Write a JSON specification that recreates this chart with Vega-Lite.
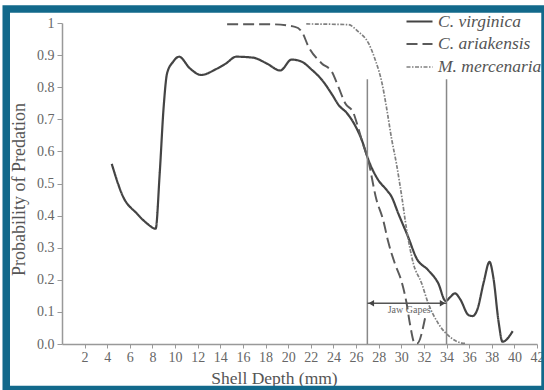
{
  "$schema": "https://vega.github.io/schema/vega-lite/v6.json",
  "width": 475,
  "height": 321,
  "autosize": {"type": "none"},
  "padding": {"left": 62, "top": 23, "right": 7, "bottom": 46},
  "background": "white",
  "config": {
    "view": {"stroke": null},
    "font": "Liberation Serif",
    "axis": {"labelOverlap": false, "labelSeparation": 0, "labelBound": false, "labelFlush": false, "grid": false, "labelFont": "Liberation Serif", "labelFontSize": 14, "labelColor": "#666", "domainColor": "#999", "tickColor": "#999", "domainWidth": 1.5}
  },
  "datasets": {
    "curves": [
      {"series": "C. virginica", "x": 4.4, "y": 0.561},
      {"series": "C. virginica", "x": 5.4, "y": 0.459},
      {"series": "C. virginica", "x": 6.6, "y": 0.407},
      {"series": "C. virginica", "x": 7.5, "y": 0.376},
      {"series": "C. virginica", "x": 8.28, "y": 0.359},
      {"series": "C. virginica", "x": 8.64, "y": 0.532},
      {"series": "C. virginica", "x": 8.99, "y": 0.739},
      {"series": "C. virginica", "x": 9.29, "y": 0.843},
      {"series": "C. virginica", "x": 9.82, "y": 0.879},
      {"series": "C. virginica", "x": 10.35, "y": 0.895},
      {"series": "C. virginica", "x": 11.3, "y": 0.859},
      {"series": "C. virginica", "x": 12.3, "y": 0.838},
      {"series": "C. virginica", "x": 13.6, "y": 0.856},
      {"series": "C. virginica", "x": 14.5, "y": 0.874},
      {"series": "C. virginica", "x": 15.4, "y": 0.895},
      {"series": "C. virginica", "x": 16.9, "y": 0.892},
      {"series": "C. virginica", "x": 18.1, "y": 0.874},
      {"series": "C. virginica", "x": 19.3, "y": 0.852},
      {"series": "C. virginica", "x": 20.3, "y": 0.886},
      {"series": "C. virginica", "x": 21.1, "y": 0.881},
      {"series": "C. virginica", "x": 22.1, "y": 0.854},
      {"series": "C. virginica", "x": 23.0, "y": 0.822},
      {"series": "C. virginica", "x": 23.9, "y": 0.776},
      {"series": "C. virginica", "x": 24.45, "y": 0.745},
      {"series": "C. virginica", "x": 25.2, "y": 0.719},
      {"series": "C. virginica", "x": 25.8, "y": 0.688},
      {"series": "C. virginica", "x": 26.5, "y": 0.636},
      {"series": "C. virginica", "x": 27.1, "y": 0.573},
      {"series": "C. virginica", "x": 27.96, "y": 0.511},
      {"series": "C. virginica", "x": 28.7, "y": 0.48},
      {"series": "C. virginica", "x": 29.14, "y": 0.459},
      {"series": "C. virginica", "x": 29.73, "y": 0.407},
      {"series": "C. virginica", "x": 30.6, "y": 0.334},
      {"series": "C. virginica", "x": 31.35, "y": 0.267},
      {"series": "C. virginica", "x": 32.38, "y": 0.23},
      {"series": "C. virginica", "x": 33.27, "y": 0.189},
      {"series": "C. virginica", "x": 33.92, "y": 0.134},
      {"series": "C. virginica", "x": 34.3, "y": 0.145},
      {"series": "C. virginica", "x": 34.75, "y": 0.158},
      {"series": "C. virginica", "x": 35.2, "y": 0.14},
      {"series": "C. virginica", "x": 35.95, "y": 0.09},
      {"series": "C. virginica", "x": 36.3, "y": 0.087},
      {"series": "C. virginica", "x": 36.7, "y": 0.105},
      {"series": "C. virginica", "x": 37.3, "y": 0.194},
      {"series": "C. virginica", "x": 37.8, "y": 0.256},
      {"series": "C. virginica", "x": 38.15, "y": 0.205},
      {"series": "C. virginica", "x": 38.6, "y": 0.07},
      {"series": "C. virginica", "x": 38.95, "y": 0.007},
      {"series": "C. virginica", "x": 39.85, "y": 0.04},
      {"series": "C. ariakensis", "x": 14.6, "y": 0.996},
      {"series": "C. ariakensis", "x": 18.5, "y": 0.996},
      {"series": "C. ariakensis", "x": 20.6, "y": 0.988},
      {"series": "C. ariakensis", "x": 21.2, "y": 0.973},
      {"series": "C. ariakensis", "x": 21.8, "y": 0.926},
      {"series": "C. ariakensis", "x": 22.97, "y": 0.874},
      {"series": "C. ariakensis", "x": 23.86, "y": 0.848},
      {"series": "C. ariakensis", "x": 24.45, "y": 0.8},
      {"series": "C. ariakensis", "x": 25.04, "y": 0.75},
      {"series": "C. ariakensis", "x": 25.78, "y": 0.719},
      {"series": "C. ariakensis", "x": 26.07, "y": 0.688},
      {"series": "C. ariakensis", "x": 26.5, "y": 0.636},
      {"series": "C. ariakensis", "x": 27.07, "y": 0.573},
      {"series": "C. ariakensis", "x": 27.8, "y": 0.45},
      {"series": "C. ariakensis", "x": 28.4, "y": 0.386},
      {"series": "C. ariakensis", "x": 28.84, "y": 0.319},
      {"series": "C. ariakensis", "x": 29.43, "y": 0.251},
      {"series": "C. ariakensis", "x": 30.03, "y": 0.194},
      {"series": "C. ariakensis", "x": 30.47, "y": 0.127},
      {"series": "C. ariakensis", "x": 30.76, "y": 0.064},
      {"series": "C. ariakensis", "x": 31.2, "y": 0.002},
      {"series": "C. ariakensis", "x": 31.4, "y": 0.002},
      {"series": "C. ariakensis", "x": 32.1, "y": 0.08},
      {"series": "M. mercenaria", "x": 21.6, "y": 0.997},
      {"series": "M. mercenaria", "x": 25.3, "y": 0.995},
      {"series": "M. mercenaria", "x": 26.2, "y": 0.973},
      {"series": "M. mercenaria", "x": 27.1, "y": 0.937},
      {"series": "M. mercenaria", "x": 27.7, "y": 0.885},
      {"series": "M. mercenaria", "x": 28.3, "y": 0.812},
      {"series": "M. mercenaria", "x": 28.73, "y": 0.729},
      {"series": "M. mercenaria", "x": 29.14, "y": 0.64},
      {"series": "M. mercenaria", "x": 29.58, "y": 0.56},
      {"series": "M. mercenaria", "x": 30.03, "y": 0.462},
      {"series": "M. mercenaria", "x": 30.47, "y": 0.357},
      {"series": "M. mercenaria", "x": 31.05, "y": 0.253},
      {"series": "M. mercenaria", "x": 31.8, "y": 0.189},
      {"series": "M. mercenaria", "x": 32.38, "y": 0.127},
      {"series": "M. mercenaria", "x": 33.27, "y": 0.064},
      {"series": "M. mercenaria", "x": 34.45, "y": 0.018},
      {"series": "M. mercenaria", "x": 35.34, "y": 0.003},
      {"series": "M. mercenaria", "x": 35.7, "y": 0.002}
    ],
    "gapes": [
      {"x": 27, "y": 0, "y2": 0.825},
      {"x": 34, "y": 0, "y2": 0.825}
    ],
    "arrow": [
      {"x": 27, "y": 0.127},
      {"x": 34, "y": 0.127}
    ],
    "heads": [
      {"x": 27.35, "y": 0.127, "dir": "left"},
      {"x": 33.65, "y": 0.127, "dir": "right"}
    ],
    "label": [
      {"x": 30.7, "y": 0.106, "text": "Jaw Gapes"}
    ]
  },
  "resolve": {"axis": {"x": "independent", "y": "independent"}},
  "layer": [
    {
      "encoding": {
        "x": {
          "field": "x", "type": "quantitative",
          "scale": {"domain": [0, 42], "nice": false, "zero": false},
          "axis": {
            "title": "Shell Depth (mm)", "labelOverlap": false,
            "values": [2, 4, 6, 8, 10, 12, 14, 16, 18, 20, 22, 24, 26, 28, 30, 32, 34, 36, 38, 40, 42],
            "tickSize": 4, "labelPadding": 2,
            "titleFont": "Liberation Serif", "titleFontSize": 17.5, "titleFontWeight": "normal", "titleColor": "#555",
            "titleX": 212, "titleY": 39, "titleBaseline": "alphabetic", "titleAlign": "center"
          }
        },
        "y": {
          "field": "y", "type": "quantitative",
          "scale": {"domain": [0, 1], "nice": false},
          "axis": {
            "title": "Probability of Predation", "labelOverlap": false,
            "values": [0, 0.1, 0.2, 0.3, 0.4, 0.5, 0.6, 0.7, 0.8, 0.9, 1],
            "labelExpr": "datum.value == 1 ? '1' : format(datum.value, '.1f')",
            "tickSize": 5, "labelPadding": 3,
            "titleFont": "Liberation Serif", "titleFontSize": 18, "titleFontWeight": "normal", "titleColor": "#555",
            "titleX": -38, "titleY": 166, "titleAngle": -90, "titleBaseline": "alphabetic", "titleAlign": "center"
          }
        }
      },
      "layer": [
        {
          "data": {"name": "curves"},
          "mark": {"type": "line", "interpolate": "monotone"},
          "encoding": {
            "color": {
              "field": "series", "type": "nominal",
              "scale": {"domain": ["C. virginica", "C. ariakensis", "M. mercenaria"], "range": ["#444444", "#5a5a5a", "#808080"]},
              "legend": {
                "title": null, "orient": "none", "legendX": 343, "legendY": -16,
                "symbolType": "stroke", "symbolSize": 676, "symbolStrokeWidth": 2,
                "labelFont": "Liberation Serif", "labelFontStyle": "italic", "labelFontSize": 17.5, "labelColor": "#555",
                "rowPadding": 0, "labelOffset": 4
              }
            },
            "strokeDash": {
              "field": "series", "type": "nominal",
              "scale": {"domain": ["C. virginica", "C. ariakensis", "M. mercenaria"], "range": [[1, 0], [11, 5], [4, 1.5, 1.5, 1.5]]}
            },
            "strokeWidth": {
              "field": "series", "type": "nominal",
              "scale": {"domain": ["C. virginica", "C. ariakensis", "M. mercenaria"], "range": [2.2, 1.7, 1.3]}
            }
          }
        },
        {
          "data": {"name": "gapes"},
          "mark": {"type": "rule", "color": "#888", "strokeWidth": 1.5},
          "encoding": {
            "y2": {"field": "y2"}
          }
        },
        {
          "data": {"name": "arrow"},
          "mark": {"type": "line", "color": "#555", "strokeWidth": 1.5},
          "encoding": {}
        },
        {
          "data": {"name": "heads"},
          "mark": {"type": "point", "filled": true, "color": "#444", "size": 40, "opacity": 1},
          "encoding": {
            "shape": {"field": "dir", "type": "nominal", "scale": {"domain": ["left", "right"], "range": ["triangle-left", "triangle-right"]}, "legend": null}
          }
        },
        {
          "data": {"name": "label"},
          "mark": {"type": "text", "font": "Liberation Serif", "fontSize": 10, "color": "#666", "baseline": "middle", "align": "center"},
          "encoding": {
            "text": {"field": "text"}
          }
        }
      ]
    },
    {
      "data": {"values": [{}]},
      "mark": {"type": "rect", "fill": null, "fillOpacity": 0, "stroke": "#12698b", "strokeWidth": 7.5, "clip": false},
      "encoding": {
        "x": {"datum": -4.93, "type": "quantitative", "axis": null},
        "x2": {"datum": 42.71},
        "y": {"datum": 1.044, "type": "quantitative", "axis": null},
        "y2": {"datum": -0.142}
      }
    }
  ]
}
